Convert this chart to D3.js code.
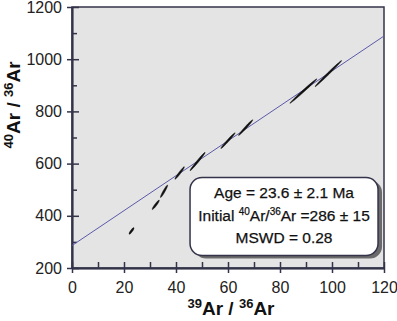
<!DOCTYPE html>
<html lang="en">
<head>
    <meta charset="UTF-8">
    <title>Isochron 40Ar/36Ar vs 39Ar/36Ar</title>
    <script src="https://d3js.org/d3.v7.min.js"></script>
    <style>
        body {
            margin: 0;
            background: #fff;
            font-family: Arial, "Liberation Sans", sans-serif;
        }
        .axis path, .axis line {
            stroke: #33334a;
            stroke-width: 1.5;
        }
        .axis text {
            font-size: 16px;
            fill: #222;
            font-family: Arial, "Liberation Sans", sans-serif;
        }
    </style>
</head>
<body>
    <svg width="397" height="321"></svg>

    <script>
        // step data: 39Ar/36Ar, 40Ar/36Ar and their (correlated) half errors
        const ratio39 = [22.9, 32.2, 35.4, 41.4, 48.3, 60.0, 66.8, 89.0, 98.6];
        const ratio40 = [342, 442, 494, 564, 608, 688, 738, 878, 945];
        const err39 = [0.9, 1.35, 1.35, 1.8, 2.9, 2.75, 2.75, 5.2, 5.1];
        const err40 = [12.5, 18, 24, 24, 35, 30, 30, 47, 50];

        // isochron fit
        const intercept = 286;
        const slope = 6.69;

        const xTicks = [0, 20, 40, 60, 80, 100, 120];
        const xMinor = [10, 30, 50, 70, 90, 110];
        const yTicks = [200, 400, 600, 800, 1000, 1200];
        const yMinor = [300, 500, 700, 900, 1100];

        const boxLines = [
            ["Age = 23.6 ± 2.1 Ma"],
            ["Initial ", "40", "Ar/", "36", "Ar =286 ± 15"],
            ["MSWD = 0.28"]
        ];

        const margin = { top: 7, right: 13, bottom: 53, left: 72 };
        const width = 397 - margin.left - margin.right;
        const height = 321 - margin.top - margin.bottom;

        const svg = d3.select("svg")
            .append("g")
            .attr("transform", `translate(${margin.left},${margin.top})`);

        const x = d3.scaleLinear().domain([0, 120]).range([0, width]);
        const y = d3.scaleLinear().domain([200, 1200]).range([height, 0]);

        svg.append("rect")
            .attr("width", width)
            .attr("height", height)
            .attr("fill", "#e4e4e4")
            .attr("stroke", "#33334a")
            .attr("stroke-width", 1.5);

        // axes: major ticks cross the axis, minor ticks inside
        svg.append("g").attr("class", "axis")
            .call(d3.axisLeft(y).tickValues(yTicks).tickFormat(d3.format("d"))
                .tickSize(5).tickPadding(5).tickSizeOuter(0));
        svg.append("g").attr("class", "axis")
            .call(d3.axisLeft(y).tickValues(yTicks).tickSize(-7).tickFormat("").tickSizeOuter(0));
        svg.append("g").attr("class", "axis")
            .call(d3.axisLeft(y).tickValues(yMinor).tickSize(-5).tickFormat("").tickSizeOuter(0));

        svg.append("g").attr("class", "axis")
            .attr("transform", `translate(0,${height})`)
            .call(d3.axisBottom(x).tickValues(xTicks).tickSize(5).tickPadding(9).tickSizeOuter(0));
        svg.append("g").attr("class", "axis")
            .attr("transform", `translate(0,${height})`)
            .call(d3.axisBottom(x).tickValues(xTicks).tickSize(-6).tickFormat("").tickSizeOuter(0));
        svg.append("g").attr("class", "axis")
            .attr("transform", `translate(0,${height})`)
            .call(d3.axisBottom(x).tickValues(xMinor).tickSize(-6).tickFormat("").tickSizeOuter(0));

        // fit line
        svg.append("line")
            .attr("x1", x(0)).attr("y1", y(intercept))
            .attr("x2", x(120)).attr("y2", y(intercept + slope * 120))
            .attr("stroke", "#5a5aaa")
            .attr("stroke-width", 1);

        // error ellipses (very thin, correlated)
        const pts = ratio39.map((v, i) => ({ x: v, y: ratio40[i], dx: err39[i], dy: err40[i] }));
        svg.selectAll(".ell")
            .data(pts)
            .join("ellipse")
            .attr("class", "ell")
            .each(function (d) {
                const x1 = x(d.x - d.dx), y1 = y(d.y - d.dy);
                const x2 = x(d.x + d.dx), y2 = y(d.y + d.dy);
                const len = Math.hypot(x2 - x1, y2 - y1) / 2;
                const ang = Math.atan2(y2 - y1, x2 - x1) * 180 / Math.PI;
                d3.select(this)
                    .attr("rx", len)
                    .attr("ry", 1)
                    .attr("transform", `translate(${x(d.x)},${y(d.y)}) rotate(${ang})`);
            })
            .attr("fill", "#111")
            .attr("stroke", "#111")
            .attr("stroke-width", 0.4);

        // result box
        const bx = x(45.4), by = y(547), bw = 188, bh = 78;
        svg.append("rect")
            .attr("x", bx + 4).attr("y", by + 3)
            .attr("width", bw).attr("height", bh)
            .attr("rx", 12)
            .attr("fill", "#6a6a6a");
        svg.append("rect")
            .attr("x", bx).attr("y", by)
            .attr("width", bw).attr("height", bh)
            .attr("rx", 12)
            .attr("fill", "#fff")
            .attr("stroke", "#33334a")
            .attr("stroke-width", 1.5);

        boxLines.forEach((parts, i) => {
            const t = svg.append("text")
                .attr("x", bx + bw / 2)
                .attr("y", by + 21 + i * 22.5)
                .attr("text-anchor", "middle")
                .attr("font-size", 15.5)
                .attr("fill", "#111")
                .attr("stroke", "#111")
                .attr("stroke-width", 0.25);
            parts.forEach((p, j) => {
                const sup = parts.length > 1 && j % 2 === 1;
                t.append("tspan")
                    .attr("font-size", sup ? 10 : 15.5)
                    .attr("dy", sup ? -6 : (j > 0 ? 6 : 0))
                    .text(p);
            });
        });

        // axis titles
        function label(sel, a, b) {
            sel.append("tspan").attr("font-size", 13).attr("dy", -7).text(a);
            sel.append("tspan").attr("dy", 7).text("Ar / ");
            sel.append("tspan").attr("font-size", 13).attr("dy", -7).text(b);
            sel.append("tspan").attr("dy", 7).text("Ar");
        }

        const xl = svg.append("text")
            .attr("x", width / 2 + 3)
            .attr("y", height + 47)
            .attr("text-anchor", "middle")
            .attr("font-size", 19)
            .attr("font-weight", "bold")
            .attr("fill", "#111");
        label(xl, "39", "36");

        const yl = svg.append("text")
            .attr("transform", `translate(${-52},${y(825)}) rotate(-90)`)
            .attr("text-anchor", "middle")
            .attr("font-size", 19)
            .attr("font-weight", "bold")
            .attr("fill", "#111");
        label(yl, "40", "36");
    </script>
</body>
</html>
